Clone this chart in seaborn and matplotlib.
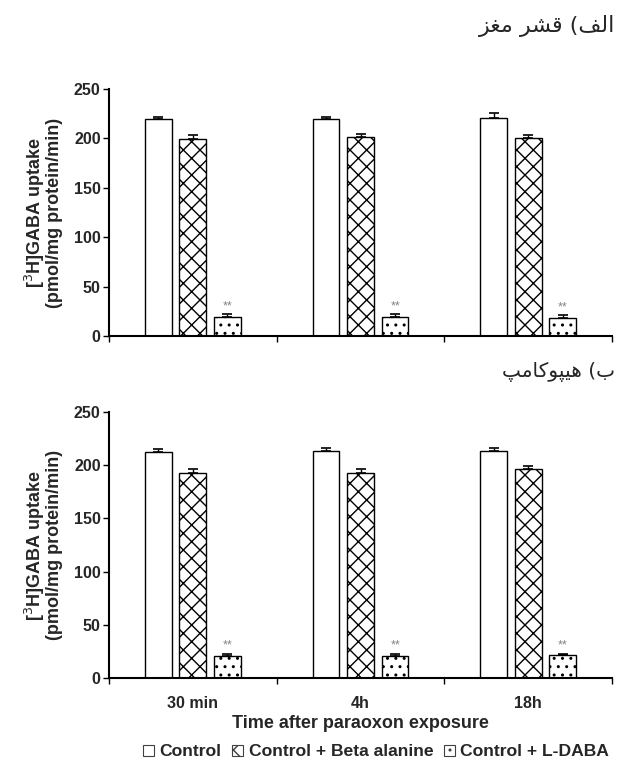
import numpy as np
import pandas as pd
import matplotlib
matplotlib.use("Agg")
import matplotlib.pyplot as plt
import seaborn as sns
from matplotlib.patches import Patch

# ---------------- data ----------------
groups = ["30 min", "4h", "18h"]
treatments = ["Control", "Control + Beta alanine", "Control + L-DABA"]

cortex_control = [220, 220, 221]
cortex_control_err = [2, 2, 5]
cortex_beta = [199, 201, 200]
cortex_beta_err = [4, 3, 3]
cortex_ldaba = [19.5, 19, 18.5]
cortex_ldaba_err = [2.5, 3, 2.5]

hippo_control = [212, 213, 213]
hippo_control_err = [3, 3, 3]
hippo_beta = [193, 193, 196.5]
hippo_beta_err = [3.5, 3, 2.5]
hippo_ldaba = [21, 21, 22]
hippo_ldaba_err = [2, 2, 1]

ytick_vals = [0, 50, 100, 150, 200, 250]
ylabel = "[$^3$H]GABA uptake\n(pmol/mg protein/min)"
xlabel = "Time after paraoxon exposure"
# Persian titles (visual order, presentation forms): "الف) قشر مغز" and "ب) هیپوکامپ"
title_top = "\uFEB0\uFED0\uFEE3 \uFEAE\uFEB8\uFED7 (\uFED2\uFEDF\uFE8D"
title_bottom = "\uFB57\uFEE3\uFE8E\uFB90\uFEEE\uFB59\uFEF4\uFEEB (\uFE8F"

sns.set_theme(style="white")
plt.rcParams["font.family"] = ["Liberation Sans", "DejaVu Sans"]
plt.rcParams["hatch.linewidth"] = 1.0

W, H = 624, 771
fig = plt.figure(figsize=(W / 100, H / 100), dpi=100)

def px_axes(left, right, top, bottom):
    return fig.add_axes([left / W, 1 - bottom / H, (right - left) / W, (bottom - top) / H])

ax1 = px_axes(109, 612, 89, 336)
ax2 = px_axes(109, 612, 412, 678)

hatches = ["", "xx", ".."]

def draw(ax, ctrl, ctrl_e, beta, beta_e, ld, ld_e, show_x):
    df = pd.DataFrame({
        "time": groups * 3,
        "treatment": [treatments[0]] * 3 + [treatments[1]] * 3 + [treatments[2]] * 3,
        "value": list(ctrl) + list(beta) + list(ld),
    })
    sns.barplot(data=df, x="time", y="value", hue="treatment", order=groups,
                hue_order=treatments, palette=["white"] * 3, edgecolor="black",
                linewidth=1.0, width=0.62, gap=0.23, errorbar=None, legend=False,
                ax=ax, saturation=1)
    errs = [ctrl_e, beta_e, ld_e]
    bar_conts = list(ax.containers)
    for i, cont in enumerate(bar_conts):
        xs, ys = [], []
        for bar in cont:
            bar.set_hatch(hatches[i])
            bar.set_facecolor("white")
            bar.set_edgecolor("black")
            xs.append(bar.get_x() + bar.get_width() / 2)
            ys.append(bar.get_height())
        e = errs[i]
        ax.errorbar(xs, ys, yerr=[np.zeros(len(e)), e], fmt="none", ecolor="black",
                    elinewidth=1.0, capsize=3.5, capthick=1.2)
        if i == 2:
            for x, y, ee in zip(xs, ys, e):
                ax.text(x, y + ee + 2, "**", ha="center", va="bottom",
                        color="#858585", fontsize=9)
    ax.set_xlim(-0.5, 2.5)
    ax.set_ylim(0, 250)
    ax.set_yticks(ytick_vals)
    ax.set_yticklabels([str(v) for v in ytick_vals], fontsize=11.5, fontweight="bold")
    ax.set_xticks([0, 1, 2])
    ax.set_xticks([-0.5, 0.5, 1.5, 2.5], minor=True)
    ax.tick_params(axis="x", which="major", length=0, pad=13)
    ax.tick_params(axis="x", which="minor", length=4, width=1, direction="out",
                   color="black", bottom=True)
    ax.tick_params(axis="y", length=4, width=1, direction="out", color="black",
                   left=True, pad=2)
    if show_x:
        ax.set_xticklabels(groups, fontsize=11.5, fontweight="bold")
        ax.set_xlabel(xlabel, fontsize=13, fontweight="bold", labelpad=3)
    else:
        ax.set_xticklabels([])
        ax.set_xlabel("")
    ax.set_ylabel(ylabel, fontsize=13, fontweight="bold", labelpad=7.5,
                  linespacing=0.95)
    for s in ["top", "right"]:
        ax.spines[s].set_visible(False)
    for s in ["left", "bottom"]:
        ax.spines[s].set_color("black")
        ax.spines[s].set_linewidth(1.5)

draw(ax1, cortex_control, cortex_control_err, cortex_beta, cortex_beta_err,
     cortex_ldaba, cortex_ldaba_err, False)
draw(ax2, hippo_control, hippo_control_err, hippo_beta, hippo_beta_err,
     hippo_ldaba, hippo_ldaba_err, True)

fig.text(615 / W, 1 - 26 / H, title_top, ha="right", va="center", fontsize=16,
         family=["DejaVu Sans"])
fig.text(615 / W, 1 - 372 / H, title_bottom, ha="right", va="center", fontsize=14.5,
         family=["DejaVu Sans"])

handles = [Patch(facecolor="white", edgecolor="#404040", hatch=h, linewidth=0.8)
           for h in hatches]
fig.legend(handles, treatments, loc="center", bbox_to_anchor=(376 / W, 1 - 752 / H),
           ncol=3, frameon=False, handlelength=0.65, handleheight=0.65,
           handletextpad=0.3, columnspacing=0.6,
           prop={"size": 12.6, "weight": "bold", "family": "Liberation Sans"})

fig.savefig("out.png", dpi=100)
